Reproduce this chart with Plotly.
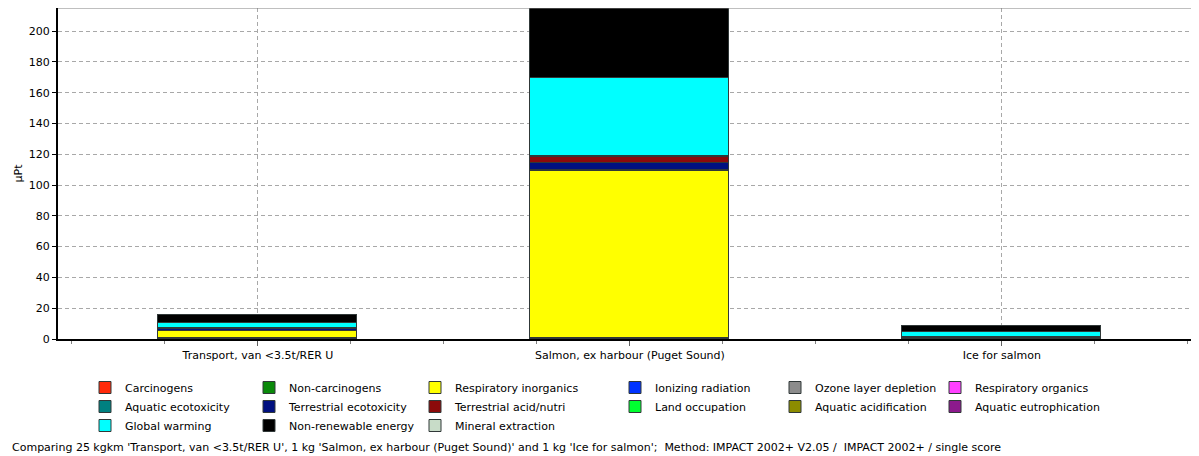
import plotly.graph_objects as go

# ---------------- data ----------------
categories = ["Transport, van <3.5t/RER U",
              "Salmon, ex harbour (Puget Sound)",
              "Ice for salmon"]

carcinogens = [0.3, 0.3, 0.2]
non_carcinogens = [0.5, 0.4, 0.2]
respiratory_inorganics = [4.3, 108.5, 0.5]
ionizing_radiation = [0.1, 0.1, 0.02]
ozone_layer_depletion = [0.01, 0.05, 0.01]
respiratory_organics = [0.02, 0.05, 0.01]
aquatic_ecotoxicity = [0.1, 0.2, 0.05]
terrestrial_ecotoxicity = [1.0, 5.0, 0.3]
terrestrial_acid_nutri = [0.4, 3.5, 0.2]
land_occupation = [0.3, 0.5, 0.05]
aquatic_acidification = [0.02, 0.05, 0.01]
aquatic_eutrophication = [0.01, 0.02, 0.01]
global_warming = [3.5, 50.6, 3.2]
non_renewable_energy = [5.3, 60.0, 3.6]
mineral_extraction = [0.05, 0.1, 0.02]

series = [
    ("Carcinogens", carcinogens),
    ("Non-carcinogens", non_carcinogens),
    ("Respiratory inorganics", respiratory_inorganics),
    ("Ionizing radiation", ionizing_radiation),
    ("Ozone layer depletion", ozone_layer_depletion),
    ("Respiratory organics", respiratory_organics),
    ("Aquatic ecotoxicity", aquatic_ecotoxicity),
    ("Terrestrial ecotoxicity", terrestrial_ecotoxicity),
    ("Terrestrial acid/nutri", terrestrial_acid_nutri),
    ("Land occupation", land_occupation),
    ("Aquatic acidification", aquatic_acidification),
    ("Aquatic eutrophication", aquatic_eutrophication),
    ("Global warming", global_warming),
    ("Non-renewable energy", non_renewable_energy),
    ("Mineral extraction", mineral_extraction),
]

y_ticks = [0, 20, 40, 60, 80, 100, 120, 140, 160, 180, 200]
y_title = "µPt"
caption = ("Comparing 25 kgkm 'Transport, van <3.5t/RER U', 1 kg 'Salmon, ex harbour (Puget Sound)' "
           "and 1 kg 'Ice for salmon';  Method: IMPACT 2002+ V2.05 /  IMPACT 2002+ / single score")

# ---------------- styles ----------------
colors = {
    "Carcinogens": "#FF2A0A",
    "Non-carcinogens": "#0A8A0A",
    "Respiratory inorganics": "#FFFF00",
    "Ionizing radiation": "#0033FF",
    "Ozone layer depletion": "#8C8C8C",
    "Respiratory organics": "#FF40FF",
    "Aquatic ecotoxicity": "#008080",
    "Terrestrial ecotoxicity": "#001080",
    "Terrestrial acid/nutri": "#8C0A0A",
    "Land occupation": "#00FF30",
    "Aquatic acidification": "#8C8C00",
    "Aquatic eutrophication": "#8C1A8C",
    "Global warming": "#00FFFF",
    "Non-renewable energy": "#000000",
    "Mineral extraction": "#C8DCC8",
}

FONT = "DejaVu Sans"
x_pos = list(range(len(categories)))

fig = go.Figure()
for i, (name, vals) in enumerate(series):
    col = i % 6
    leg = "legend" if col == 0 else f"legend{col + 1}"
    fig.add_trace(go.Bar(
        x=x_pos, y=vals, name=name,
        width=0.535,
        marker=dict(color=colors[name], line=dict(color="#303838", width=1)),
        legend=leg,
    ))

# The page body adds an 8px margin; size the figure so it fits the window.
OFF = 8
W, H = 1199 - OFF, 456 - OFF
# target positions in window pixels
plot_left, plot_top, plot_bottom, plot_right = 58, 8, 339, 1199
ml = plot_left - OFF
mt = plot_top - OFF
mb = H - (plot_bottom - OFF)
mr = W - (plot_right - OFF)
pw = W - ml - mr
ph = H - mt - mb

def px_x(p):
    return (p - plot_left) / pw

def px_y(p):
    return (plot_bottom - p) / ph

legend_text_x = [125, 289, 455, 655, 815, 975]
legend_top_px = 373
legend_layout = {}
for c, tx in enumerate(legend_text_x):
    key = "legend" if c == 0 else f"legend{c + 1}"
    legend_layout[key] = dict(
        x=px_x(tx - 40), y=px_y(legend_top_px), xanchor="left", yanchor="top",
        orientation="v", traceorder="normal", bgcolor="rgba(0,0,0,0)",
        borderwidth=0, font=dict(family=FONT, size=11, color="#000000"),
        itemclick=False, itemdoubleclick=False,
    )

fig.update_layout(
    width=W, height=H,
    margin=dict(l=ml, r=mr, t=mt, b=mb, autoexpand=False),
    barmode="stack",
    bargap=0,
    plot_bgcolor="#FFFFFF",
    paper_bgcolor="#FFFFFF",
    font=dict(family=FONT, size=11, color="#000000"),
    showlegend=True,
    **legend_layout,
)

fig.update_xaxes(
    range=[-0.5376, 2.53],
    tickmode="array", tickvals=x_pos, ticktext=categories,
    ticks="outside", ticklen=5, tickcolor="#606060", tickwidth=1,
    tickfont=dict(family=FONT, size=11, color="#000000"),
    showline=True, linecolor="#000000", linewidth=2,
    showgrid=True, gridcolor="#A8A8A8", griddash="4px,3px", gridwidth=1,
    zeroline=False,
    minor=dict(ticks="outside", ticklen=3, tickcolor="#808080", dtick=0.25, tick0=-0.5, showgrid=False),
    fixedrange=True,
)
fig.update_yaxes(
    range=[0, 215],
    tickmode="array", tickvals=y_ticks,
    ticks="outside", ticklen=4, tickcolor="#000000", tickwidth=1,
    tickfont=dict(family=FONT, size=11, color="#000000"),
    showline=True, linecolor="#000000", linewidth=2,
    showgrid=True, gridcolor="#A8A8A8", griddash="4px,3px", gridwidth=1,
    zeroline=False,
    title=dict(text=y_title, font=dict(family=FONT, size=11, color="#000000"), standoff=4),
    fixedrange=True,
)

# thin grey top frame line
fig.add_shape(type="line", xref="paper", yref="paper", x0=0, x1=1, y0=1, y1=1,
              line=dict(color="#808080", width=1))

fig.add_annotation(
    text=caption, xref="paper", yref="paper",
    x=px_x(10), y=px_y(447), xanchor="left", yanchor="middle",
    showarrow=False, font=dict(family=FONT, size=11, color="#000000"),
)

fig.write_html("out.html")
